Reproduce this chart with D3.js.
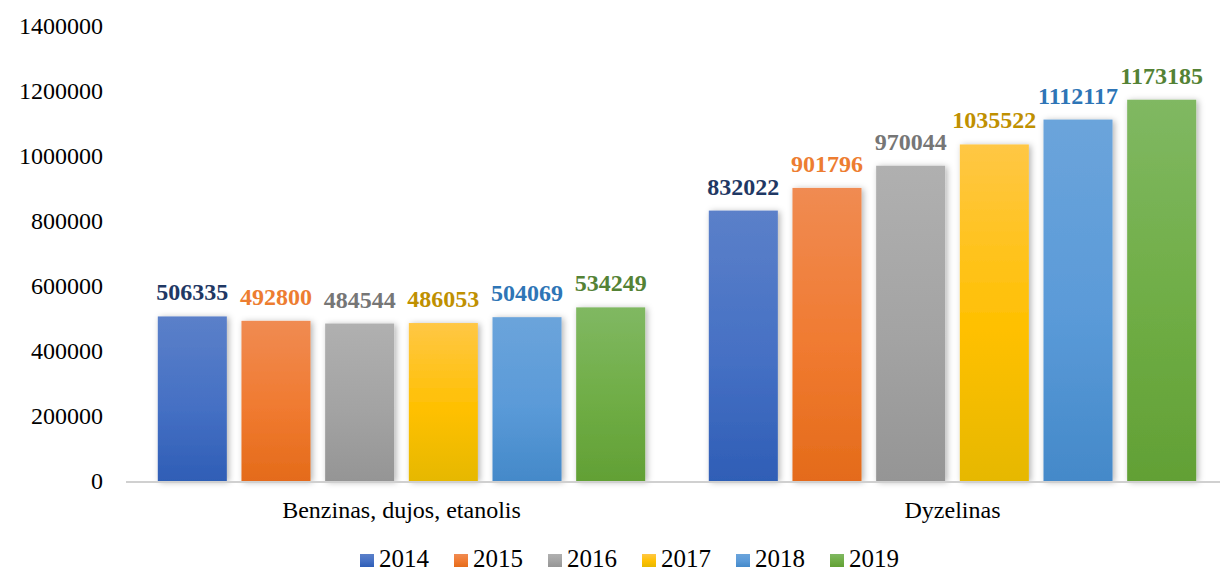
<!DOCTYPE html>
<html>
<head>
<meta charset="utf-8">
<script src="https://cdn.jsdelivr.net/npm/d3@7"></script>
<style>
  body { margin: 0; background: #fff; }
  svg { display: block; font-family: "Liberation Serif", "Times New Roman", serif; }
</style>
</head>
<body>
<script>
const width = 1220, height = 574;

const categories = ['Benzinas, dujos, etanolis', 'Dyzelinas'];
const years = ['2014', '2015', '2016', '2017', '2018', '2019'];
const values2014 = [506335, 832022];
const values2015 = [492800, 901796];
const values2016 = [484544, 970044];
const values2017 = [486053, 1035522];
const values2018 = [504069, 1112117];
const values2019 = [534249, 1173185];
const yTicks = [0, 200000, 400000, 600000, 800000, 1000000, 1200000, 1400000];

const series = [values2014, values2015, values2016, values2017, values2018, values2019];

// gradient top / mid / bottom, label colour
const barTop = ['#5b80c9', '#f08b52', '#b0b0b0', '#ffc745', '#6ba4db', '#80b862'];
const barMid = ['#4570c4', '#f07a30', '#a3a3a3', '#ffc000', '#5a9ad8', '#6fad45'];
const barBottom = ['#2f5eb6', '#e46b1a', '#959595', '#e6b800', '#4489c9', '#62a035'];
const labelColor = ['#1f3864', '#ed7d31', '#767676', '#bf9000', '#2e75b6', '#548235'];

const rows = [];
categories.forEach((c, ci) => {
  years.forEach((yr, si) => rows.push({ cat: c, year: yr, si, value: series[si][ci] }));
});

const svg = d3.select('body').append('svg')
  .attr('width', width)
  .attr('height', height);

const defs = svg.append('defs');
const filter = defs.append('filter').attr('id', 'shadow')
  .attr('x', '-20%').attr('y', '-10%').attr('width', '140%').attr('height', '120%');
filter.append('feDropShadow')
  .attr('dx', 2).attr('dy', 1).attr('stdDeviation', 3)
  .attr('flood-color', '#000').attr('flood-opacity', 0.3);

years.forEach((yr, i) => {
  const g = defs.append('linearGradient').attr('id', 'grad' + i)
    .attr('x1', 0).attr('y1', 0).attr('x2', 0).attr('y2', 1);
  g.append('stop').attr('offset', '0%').attr('stop-color', barTop[i]);
  g.append('stop').attr('offset', '55%').attr('stop-color', barMid[i]);
  g.append('stop').attr('offset', '100%').attr('stop-color', barBottom[i]);
});

const x0 = d3.scaleBand()
  .domain(categories)
  .range([126, 1228]);

const x1 = d3.scaleBand()
  .domain(years)
  .range([0, x0.bandwidth()])
  .paddingInner(0.175)
  .paddingOuter(0.38);

const y = d3.scaleLinear()
  .domain([0, 1400000])
  .range([481, 26]);

// y axis labels
svg.append('g').selectAll('text')
  .data(yTicks)
  .join('text')
  .attr('x', 103)
  .attr('y', d => y(d))
  .attr('dy', '0.35em')
  .attr('text-anchor', 'end')
  .attr('font-size', 24)
  .attr('fill', '#000')
  .text(d => d);

// bars
svg.append('g').selectAll('rect')
  .data(rows)
  .join('rect')
  .attr('x', d => x0(d.cat) + x1(d.year))
  .attr('y', d => y(d.value))
  .attr('width', x1.bandwidth())
  .attr('height', d => y(0) - y(d.value))
  .attr('fill', d => `url(#grad${d.si})`)
  .attr('filter', 'url(#shadow)');

// baseline
svg.append('line')
  .attr('x1', 126).attr('x2', 1228)
  .attr('y1', y(0) + 1).attr('y2', y(0) + 1)
  .attr('stroke', '#d0d0d0')
  .attr('stroke-width', 2);

// value labels
svg.append('g').selectAll('text')
  .data(rows)
  .join('text')
  .attr('x', d => x0(d.cat) + x1(d.year) + x1.bandwidth() / 2)
  .attr('y', d => y(d.value) - 16)
  .attr('text-anchor', 'middle')
  .attr('font-size', 24)
  .attr('font-weight', 'bold')
  .attr('fill', d => labelColor[d.si])
  .text(d => d.value);

// category labels
svg.append('g').selectAll('text')
  .data(categories)
  .join('text')
  .attr('x', d => x0(d) + x0.bandwidth() / 2)
  .attr('y', 518)
  .attr('text-anchor', 'middle')
  .attr('font-size', 24)
  .attr('fill', '#000')
  .text(d => d);

// legend
const legend = svg.append('g').selectAll('g')
  .data(years)
  .join('g')
  .attr('transform', (d, i) => `translate(${360 + i * 94},0)`);

legend.append('rect')
  .attr('x', 0).attr('y', 554)
  .attr('width', 14).attr('height', 13)
  .attr('fill', (d, i) => `url(#grad${i})`);

legend.append('text')
  .attr('x', 19).attr('y', 567)
  .attr('font-size', 25)
  .attr('fill', '#000')
  .text(d => d);
</script>
</body>
</html>
